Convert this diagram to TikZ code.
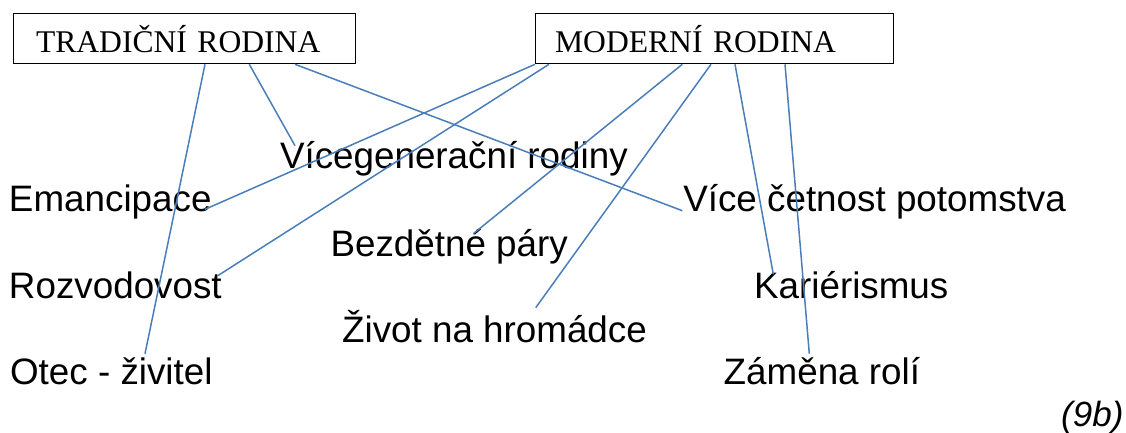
\documentclass[tikz,border=0pt]{standalone}
\usepackage{fontspec}
\setmainfont{Liberation Sans}
\newfontfamily\boxfont{Liberation Serif}
\definecolor{linkblue}{RGB}{74,126,187}
\tikzset{
    family/.style={draw=black, line width=1pt, anchor=north west, inner ysep=0pt,
        minimum height=50pt, text height=28pt, text depth=0pt, align=left,
        font=\boxfont\fontsize{31.6}{38}\selectfont},
    term/.style={anchor=base west, inner sep=0pt, font=\fontsize{36.8}{44}\selectfont},
    link/.style={linkblue, line width=1.5pt}
}

\begin{document}
\begin{tikzpicture}[x=1pt, y=-1pt]
    % Fix the page size
    \useasboundingbox (0,0) rectangle (1126,433);
    % Draw the two family boxes
    \node[family, inner xsep=22.8pt, text width=297pt] (trad) at (12.7,13.3) {TRADIČNÍ RODINA};
    \node[family, inner xsep=19.6pt, text width=319.1pt] (moder) at (535,13.3) {MODERNÍ RODINA};
    % Place the terms
    \node[term] (vice) at (279.8,168.3) {Vícegenerační rodiny};
    \node[term] (emanc) at (8.8,211.7) {Emancipace};
    \node[term] (pot) at (683.1,211.7) {Více četnost potomstva};
    \node[term] (bezd) at (330.3,256) {Bezdětné páry};
    \node[term] (rozv) at (8.8,298.7) {Rozvodovost};
    \node[term] (kar) at (753.9,298.7) {Kariérismus};
    \node[term] (zivot) at (341.9,342) {Život na hromádce};
    \node[term] (otec) at (9.9,384.3) {Otec - živitel};
    \node[term] (zamena) at (723.5,384.3) {Záměna rolí};
    \node[term, font=\itshape\fontsize{35}{42}\selectfont] (tag) at (1061,426) {(9b)};
    % Connect boxes with terms
    \foreach \src/\dx/\dst/\ex/\ey in {trad/192.3/otec/135.1/30.6, trad/236.6/vice/15.2/22.6,
            trad/282.3/pot/-0.8/1, moder/0/emanc/196.2/2.4, moder/14/rozv/208.5/22.7,
            moder/147.3/bezd/143/22.3, moder/176/zivot/193.8/34.3, moder/200/kar/19.4/24.4,
            moder/250/zamena/85.8/30.6} {
        \draw[link] ([xshift=\dx pt]\src.south west) -- ([xshift=\ex pt, yshift=\ey pt]\dst.base west);
    }
\end{tikzpicture}
\end{document}
